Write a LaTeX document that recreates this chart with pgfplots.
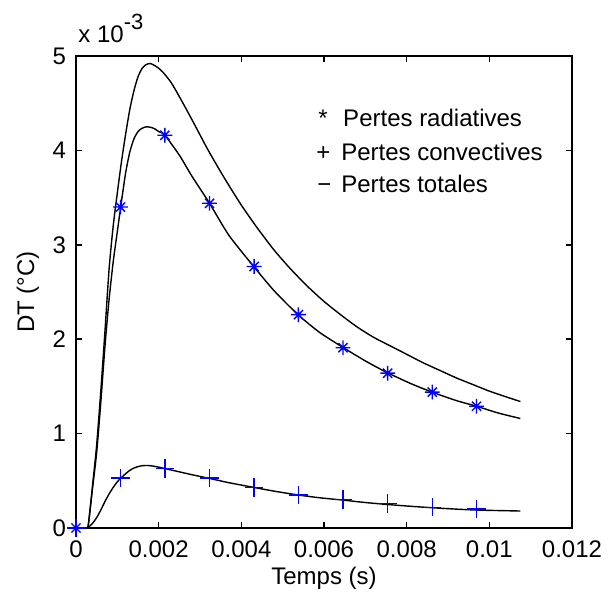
\documentclass[border=0pt]{standalone}
\usepackage{fontspec}
\setmainfont{Liberation Sans}
\usepackage{pgfplots}
\pgfplotsset{compat=1.18}
\usepackage{pgfplotstable}

% MATLAB-style '*' marker: a plus with a cross over it
\pgfdeclareplotmark{mstar}{%
  \pgfpathmoveto{\pgfpoint{-\pgfplotmarksize}{0pt}}%
  \pgfpathlineto{\pgfpoint{\pgfplotmarksize}{0pt}}%
  \pgfpathmoveto{\pgfpoint{0pt}{-\pgfplotmarksize}}%
  \pgfpathlineto{\pgfpoint{0pt}{\pgfplotmarksize}}%
  \pgfpathmoveto{\pgfpoint{-0.62\pgfplotmarksize}{-0.62\pgfplotmarksize}}%
  \pgfpathlineto{\pgfpoint{0.62\pgfplotmarksize}{0.62\pgfplotmarksize}}%
  \pgfpathmoveto{\pgfpoint{-0.62\pgfplotmarksize}{0.62\pgfplotmarksize}}%
  \pgfpathlineto{\pgfpoint{0.62\pgfplotmarksize}{-0.62\pgfplotmarksize}}%
  \pgfusepathqstroke}

% temps (s), DT (x 1e-3 degC)
\pgfplotstableread{
t        v
0        0
0.00026  0
0.0003   0.04
0.0004   0.42
0.0005   0.80
0.0006   1.33
0.0007   1.92
0.0008   2.42
0.0009   2.82
0.001    3.14
0.0011   3.46
0.0012   3.76
0.0013   3.98
0.0014   4.12
0.0015   4.20
0.0016   4.235
0.0017   4.25
0.0018   4.245
0.0019   4.23
0.002    4.20
0.00215  4.16
0.0025   3.95
0.0028   3.73
0.00323  3.44
0.0037   3.10
0.0043   2.77
0.0048   2.51
0.00537  2.26
0.0059   2.07
0.00647  1.91
0.007    1.77
0.00751  1.65
0.0081   1.53
0.00861  1.44
0.0092   1.35
0.00969  1.29
0.0102   1.22
0.01075  1.16
}\radcurve

\pgfplotstableread{
t        v
0        0
0.00026  0
0.0004   0.05
0.0005   0.11
0.0006   0.19
0.0007   0.28
0.0008   0.36
0.0009   0.43
0.001    0.49
0.0011   0.535
0.0012   0.575
0.0013   0.61
0.0014   0.635
0.0015   0.65
0.0016   0.66
0.0017   0.662
0.0018   0.66
0.002    0.645
0.00215  0.63
0.0025   0.595
0.0028   0.565
0.00323  0.525
0.0037   0.48
0.0043   0.43
0.0048   0.39
0.00537  0.35
0.0059   0.32
0.00647  0.295
0.007    0.27
0.00751  0.25
0.0081   0.23
0.00861  0.215
0.0092   0.20
0.00969  0.19
0.0102   0.185
0.01075  0.18
}\convcurve

\pgfplotstableread{
t        v
0        0
0.00026  0
0.0003   0.04
0.0004   0.45
0.0005   0.88
0.0006   1.45
0.0007   2.08
0.0008   2.74
0.0009   3.20
0.001    3.55
0.0011   3.88
0.0012   4.17
0.0013   4.43
0.0014   4.63
0.0015   4.78
0.0016   4.87
0.0017   4.91
0.0018   4.92
0.0019   4.90
0.002    4.87
0.0021   4.83
0.0023   4.72
0.0025   4.57
0.0028   4.33
0.0032   4.00
0.0036   3.70
0.004    3.42
0.0044   3.17
0.0048   2.94
0.0052   2.74
0.0056   2.56
0.006    2.40
0.0064   2.26
0.0068   2.13
0.0072   2.02
0.0076   1.93
0.008    1.84
0.0084   1.75
0.0088   1.67
0.0092   1.59
0.0096   1.52
0.01     1.45
0.0104   1.39
0.01075  1.34
}\totcurve

\pgfplotstableread{
t        rad   conv
0        0     0
0.001077 3.40  0.53
0.00215  4.16  0.63
0.00323  3.44  0.53
0.00431  2.77  0.43
0.00538  2.26  0.35
0.00646  1.91  0.30
0.00754  1.64  0.26
0.00862  1.44  0.22
0.00969  1.29  0.20
}\marks

\begin{document}
\begin{tikzpicture}
\useasboundingbox (-38pt,-36.5pt) rectangle (267pt,264pt);
\begin{axis}[
  scale only axis, width=248pt, height=236pt,
  xmin=0, xmax=0.012, ymin=0, ymax=5,
  xtick={0,0.002,0.004,0.006,0.008,0.01,0.012},
  xticklabels={0,0.002,0.004,0.006,0.008,0.01,0.012},
  ytick={0,1,2,3,4,5},
  yticklabels={0,1,2,3,4,5},
  scaled x ticks=false,
  tick align=inside, major tick length=3pt,
  every tick/.style={black, line width=0.8pt},
  axis line style={line width=0.9pt},
  tick label style={font=\fontsize{12}{14}\selectfont},
  xticklabel style={yshift=-3pt},
  yticklabel style={xshift=-1.5pt},
  label style={font=\fontsize{12}{14}\selectfont},
  xlabel={Temps (s)},
  xlabel style={at={(rel axis cs:0.5,0)}, anchor=center, yshift=-25pt},
  ylabel={DT (°C)},
  ylabel style={at={(rel axis cs:0,0.5)}, anchor=center, yshift=24pt},
  clip=false,
]
% markers first, the curves run over them as in the original
\addplot[only marks, mark=mstar, mark size=3.7pt, blue, line width=0.7pt] table[x=t,y=rad] {\marks};
\addplot[only marks, mark=+, mark size=4.6pt, blue, line width=0.7pt] table[x=t,y=conv] {\marks};
\addplot[black, line width=0.7pt, smooth, tension=0.4] table[x=t,y=v] {\totcurve};
\addplot[black, line width=0.7pt, smooth, tension=0.4] table[x=t,y=v] {\radcurve};
\addplot[black, line width=0.7pt, smooth, tension=0.4] table[x=t,y=v] {\convcurve};

\node[anchor=base west, inner sep=0pt, font=\fontsize{12}{14}\selectfont] at (rel axis cs:0.488,0.850) {*};
\node[anchor=base west, inner sep=0pt, font=\fontsize{12}{14}\selectfont] at (rel axis cs:0.538,0.850) {Pertes radiatives};
\node[anchor=base west, inner sep=0pt, font=\fontsize{12}{14}\selectfont] at (rel axis cs:0.484,0.778) {+};
\node[anchor=base west, inner sep=0pt, font=\fontsize{12}{14}\selectfont] at (rel axis cs:0.534,0.778) {Pertes convectives};
\node[anchor=base west, inner sep=0pt, font=\fontsize{12}{14}\selectfont] at (rel axis cs:0.486,0.710) {−};
\node[anchor=base west, inner sep=0pt, font=\fontsize{12}{14}\selectfont] at (rel axis cs:0.534,0.710) {Pertes totales};

\node[anchor=base west, inner sep=0pt, font=\fontsize{12}{14}\selectfont]
  at (rel axis cs:0,1) [yshift=7pt, xshift=1pt] {x 10\raisebox{1.0ex}{\fontsize{11}{13}\selectfont -3}};
\end{axis}
\end{tikzpicture}
\end{document}
